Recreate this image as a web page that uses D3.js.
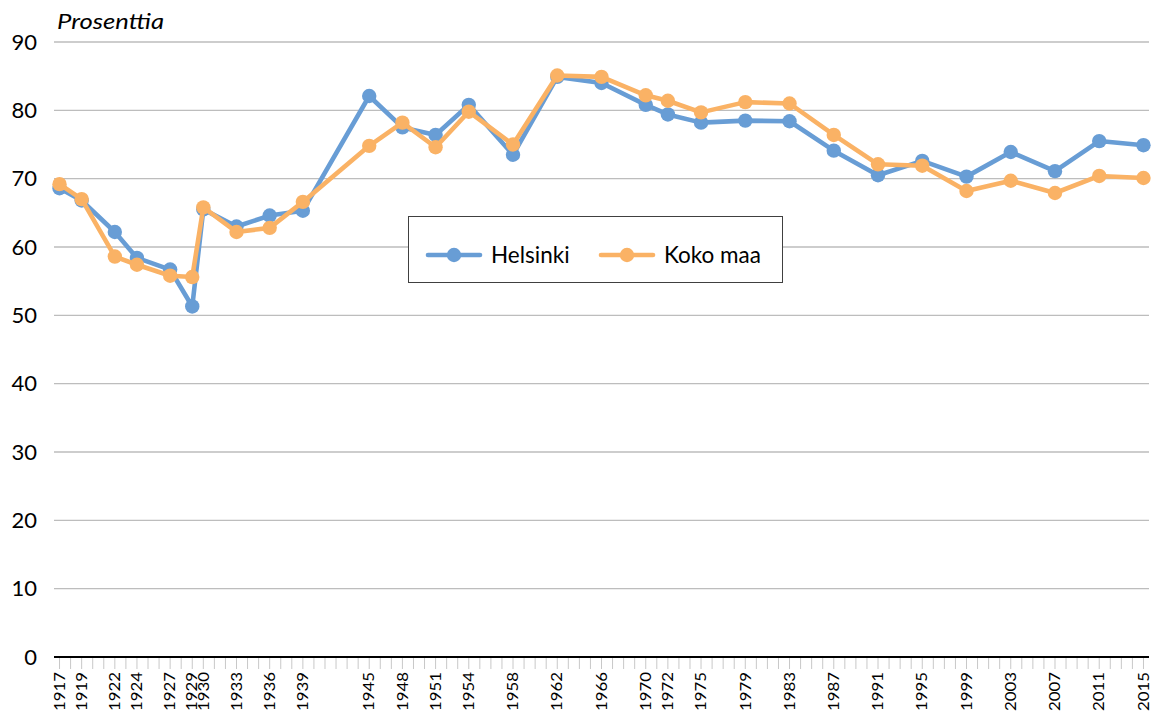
<!DOCTYPE html>
<html><head><meta charset="utf-8">
<script src="https://cdn.jsdelivr.net/npm/d3@7"></script>
<style>
body{margin:0;background:#fff;}
svg{display:block;font-family:Lato,"Open Sans",sans-serif;}
</style></head>
<body><svg id="c" width="1155" height="716"></svg>
<script>
const years = [1917,1919,1922,1924,1927,1929,1930,1933,1936,1939,1945,1948,1951,1954,1958,1962,1966,1970,1972,1975,1979,1983,1987,1991,1995,1999,2003,2007,2011,2015];
const helsinki = [68.6,66.8,62.2,58.4,56.7,51.3,65.5,63.0,64.6,65.3,82.1,77.5,76.4,80.8,73.5,84.9,84.0,80.8,79.4,78.2,78.5,78.4,74.1,70.5,72.6,70.3,73.9,71.1,75.5,74.9];
const kokoMaa = [69.2,67.0,58.6,57.4,55.8,55.6,65.8,62.2,62.8,66.6,74.8,78.2,74.6,79.8,75.0,85.1,84.9,82.2,81.4,79.7,81.2,81.0,76.4,72.1,71.9,68.2,69.7,67.9,70.4,70.1];
const yTicks = [0,10,20,30,40,50,60,70,80,90];
const seriesNames = ["Helsinki","Koko maa"];
const colors = ["#689DD5","#FAB265"];

const svg = d3.select("#c");
const x = d3.scaleLinear().domain([1916.5, 2015.5]).range([54, 1149]);
const y = d3.scaleLinear().domain([0, 90]).range([657, 42]);

// gridlines
svg.append("g").selectAll("line").data(yTicks.filter(d=>d>0)).join("line")
  .attr("x1", 54).attr("x2", 1149)
  .attr("y1", d=>y(d)).attr("y2", d=>y(d))
  .attr("stroke", "#bdbdbd").attr("stroke-width", 1.3);

// y labels
svg.append("g").selectAll("text").data(yTicks).join("text")
  .attr("x", 37).attr("y", d=>y(d)).attr("dy", "0.35em")
  .attr("text-anchor", "end").attr("font-size", 22).attr("fill", "#000")
  .text(d=>d);

// x axis ticks (every year)
const allYears = d3.range(1917, 2016);
svg.append("g").selectAll("line").data(allYears).join("line")
  .attr("x1", d=>x(d)).attr("x2", d=>x(d))
  .attr("y1", 658).attr("y2", 669)
  .attr("stroke", "#c8c8c8").attr("stroke-width", 1);

// axis line
svg.append("line").attr("x1", 54).attr("x2", 1149).attr("y1", 657).attr("y2", 657)
  .attr("stroke", "#000").attr("stroke-width", 2.2);

// x labels
svg.append("g").selectAll("text").data(years).join("text")
  .attr("transform", d=>`translate(${x(d)},672) rotate(-90)`)
  .attr("text-anchor", "end").attr("dy", "0.36em")
  .attr("font-size", 14.5).attr("fill", "#000")
  .attr("textLength", 39).attr("lengthAdjust", "spacingAndGlyphs")
  .text(d=>d);

// title
svg.append("text").attr("x", 57).attr("y", 29).attr("font-size", 22)
  .attr("font-style", "italic").attr("textLength", 107).attr("lengthAdjust", "spacingAndGlyphs")
  .text("Prosenttia");

// series
const data = [helsinki, kokoMaa];
const line = d3.line().x((d,i)=>x(years[i])).y(d=>y(d));
data.forEach((vals, s) => {
  const g = svg.append("g");
  g.append("path").datum(vals).attr("d", line)
    .attr("fill", "none").attr("stroke", colors[s]).attr("stroke-width", 4.6)
    .attr("stroke-linejoin", "round");
  g.selectAll("circle").data(vals).join("circle")
    .attr("cx", (d,i)=>x(years[i])).attr("cy", d=>y(d)).attr("r", 7.2)
    .attr("fill", colors[s]);
});

// legend
const lg = svg.append("g");
lg.append("rect").attr("x", 408.5).attr("y", 216.5).attr("width", 374).attr("height", 66)
  .attr("fill", "#fff").attr("stroke", "#404040").attr("stroke-width", 1);
const lx = [428, 601];
seriesNames.forEach((n, s) => {
  lg.append("line").attr("x1", lx[s]).attr("x2", lx[s]+52).attr("y1", 255).attr("y2", 255)
    .attr("stroke", colors[s]).attr("stroke-width", 4.6).attr("stroke-linecap", "round");
  lg.append("circle").attr("cx", lx[s]+26).attr("cy", 255).attr("r", 7.2).attr("fill", colors[s]);
  lg.append("text").attr("x", lx[s]+63).attr("y", 255).attr("dy", "0.35em")
    .attr("font-size", 22.5).attr("fill", "#000").text(n);
});
</script></body></html>
